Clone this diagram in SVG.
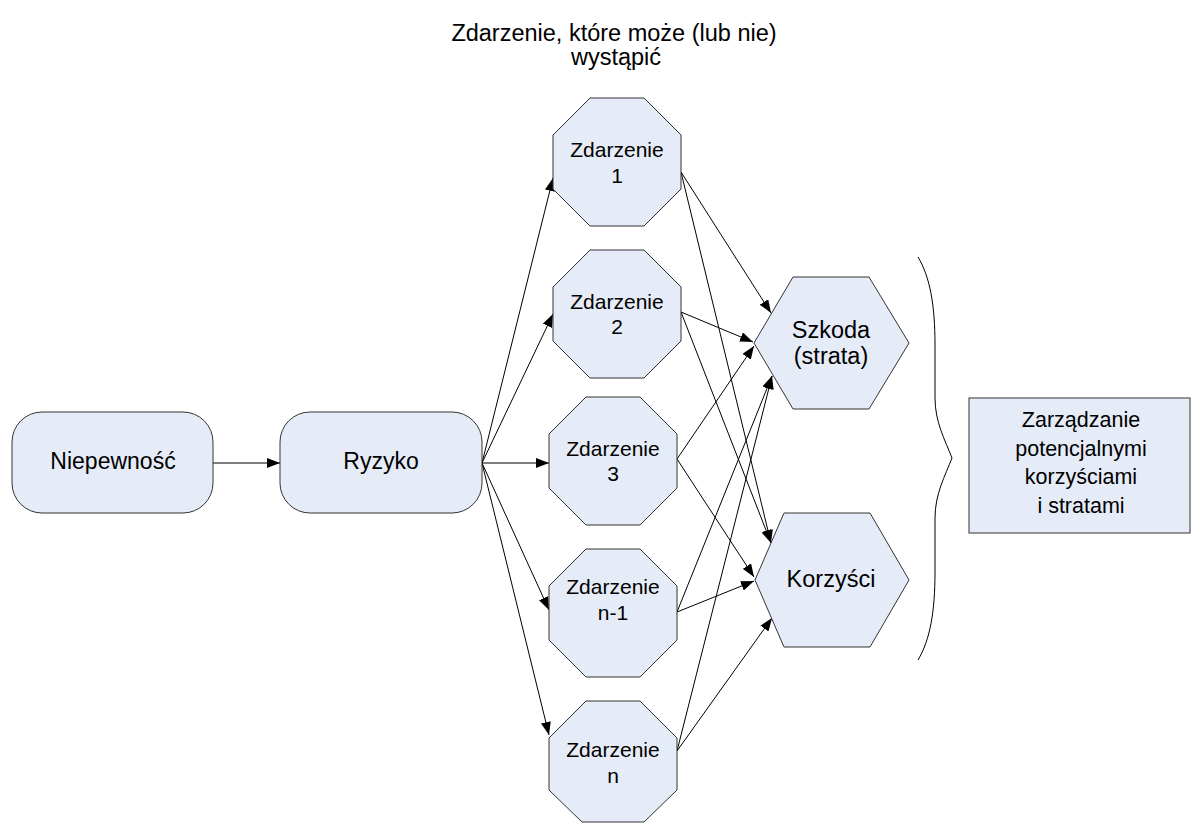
<svg xmlns="http://www.w3.org/2000/svg" width="1195" height="824" viewBox="0 0 1195 824">
  <style>
    .shape { fill: #E6ECF7; stroke: #333333; stroke-width: 1; }
    .lbl { font-family: "Liberation Sans", Arial, sans-serif; fill: #000000; text-anchor: middle; }
    .edge { fill: none; stroke: #000000; stroke-width: 1; marker-end: url(#arrow); }
    .brace { fill: none; stroke: #000000; stroke-width: 1; }
  </style>
  <defs>
    <marker id="arrow" markerUnits="userSpaceOnUse" markerWidth="13" markerHeight="10" refX="13" refY="5" orient="auto">
      <path d="M0,0 L13,5 L0,10 z" fill="#000000"/>
    </marker>
  </defs>
  <rect width="1195" height="824" fill="#ffffff"/>

  <!-- heading above the event column -->
  <g id="title">
    <text class="lbl" x="614" y="41" font-size="23.5">Zdarzenie, które może (lub nie)</text>
    <text class="lbl" x="616" y="65" font-size="23.5">wystąpić</text>
  </g>

  <!-- connectors -->
  <g id="connectors">
    <line class="edge" x1="213" y1="463" x2="280" y2="463"/>
    <line class="edge" x1="482" y1="463" x2="553" y2="178"/>
    <line class="edge" x1="482" y1="463" x2="553" y2="314"/>
    <line class="edge" x1="482" y1="463" x2="549" y2="463"/>
    <line class="edge" x1="482" y1="463" x2="549" y2="610"/>
    <line class="edge" x1="482" y1="463" x2="549" y2="735"/>

    <line class="edge" x1="681" y1="172" x2="771" y2="313"/>
    <line class="edge" x1="681" y1="172" x2="771" y2="543"/>
    <line class="edge" x1="681" y1="312" x2="753" y2="342"/>
    <line class="edge" x1="681" y1="312" x2="771" y2="543"/>
    <line class="edge" x1="677" y1="459" x2="754" y2="346"/>
    <line class="edge" x1="677" y1="459" x2="754" y2="577"/>
    <line class="edge" x1="677" y1="612" x2="772" y2="376"/>
    <line class="edge" x1="677" y1="612" x2="754" y2="581"/>
    <line class="edge" x1="677" y1="751" x2="772" y2="376"/>
    <line class="edge" x1="677" y1="751" x2="772" y2="618"/>
  </g>

  <g id="niepewnosc">
    <rect class="shape" x="12" y="412" width="201" height="101" rx="30" ry="30"/>
    <text class="lbl" x="113" y="469" font-size="23">Niepewność</text>
  </g>

  <g id="ryzyko">
    <rect class="shape" x="280" y="412" width="202" height="101" rx="30" ry="30"/>
    <text class="lbl" x="381" y="469" font-size="23">Ryzyko</text>
  </g>

  <g id="zdarzenie-1">
    <polygon class="shape" points="590,98 644,98 681,135 681,189 644,226 590,226 553,189 553,135"/>
    <text class="lbl" x="617" y="157" font-size="21">Zdarzenie</text>
    <text class="lbl" x="617" y="183" font-size="21">1</text>
  </g>

  <g id="zdarzenie-2">
    <polygon class="shape" points="590,250 644,250 681,287 681,341 644,378 590,378 553,341 553,287"/>
    <text class="lbl" x="617" y="308.5" font-size="21">Zdarzenie</text>
    <text class="lbl" x="617" y="334" font-size="21">2</text>
  </g>

  <g id="zdarzenie-3">
    <polygon class="shape" points="586,397 640,397 677,434 677,488 640,525 586,525 549,488 549,434"/>
    <text class="lbl" x="613" y="456" font-size="21">Zdarzenie</text>
    <text class="lbl" x="613" y="481" font-size="21">3</text>
  </g>

  <g id="zdarzenie-n-1">
    <polygon class="shape" points="586,549 640,549 677,586 677,640 640,677 586,677 549,640 549,586"/>
    <text class="lbl" x="613" y="594" font-size="21">Zdarzenie</text>
    <text class="lbl" x="613" y="620" font-size="21">n-1</text>
  </g>

  <g id="zdarzenie-n">
    <polygon class="shape" points="586,701 640,701 677,738 677,790 644,822 582,822 549,790 549,738"/>
    <text class="lbl" x="613" y="757" font-size="21">Zdarzenie</text>
    <text class="lbl" x="613" y="783" font-size="21">n</text>
  </g>

  <g id="szkoda">
    <polygon class="shape" points="754,343 793,277 869,277 909,343 869,409 793,409"/>
    <text class="lbl" x="831" y="338" font-size="23.5">Szkoda</text>
    <text class="lbl" x="831" y="364" font-size="23.5">(strata)</text>
  </g>

  <g id="korzysci">
    <polygon class="shape" points="755,580 784,513 870,513 909,580 870,647 784,647"/>
    <text class="lbl" x="831" y="587" font-size="23.5">Korzyści</text>
  </g>

  <!-- curly brace grouping both outcomes -->
  <g id="brace">
    <path class="brace" d="M918,257 C930,277 935,305 935,345 L935,398 C935,422 945,440 952,458 C945,476 935,494 935,518 L935,572 C935,612 930,640 918,660"/>
  </g>

  <g id="zarzadzanie">
    <rect class="shape" x="969" y="398" width="221" height="135"/>
    <text class="lbl" x="1081" y="427" font-size="21.5">Zarządzanie</text>
    <text class="lbl" x="1081" y="455.5" font-size="21.5">potencjalnymi</text>
    <text class="lbl" x="1081" y="484" font-size="21.5">korzyściami</text>
    <text class="lbl" x="1081" y="512.5" font-size="21.5">i stratami</text>
  </g>
</svg>
